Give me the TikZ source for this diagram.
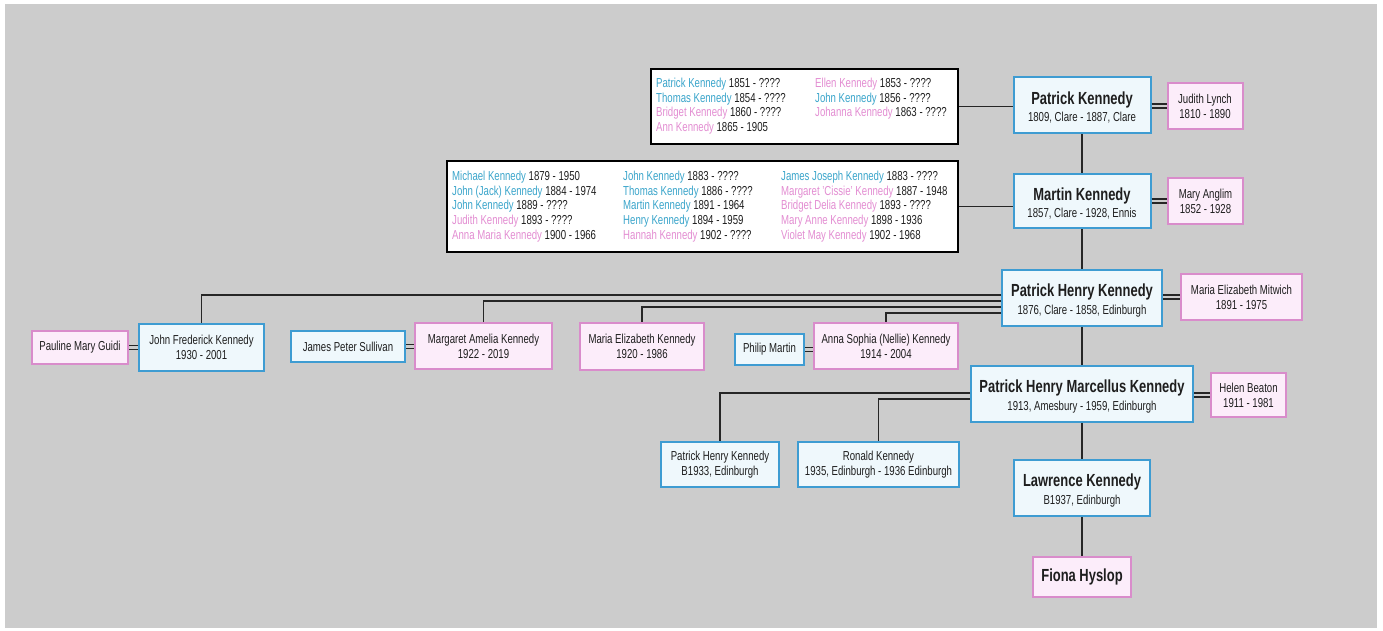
\documentclass[tikz,border=0pt]{standalone}
\usepackage{fontspec}
\setmainfont{Liberation Sans}[FakeStretch=0.74]
\usepackage{array}
\definecolor{bggray}{HTML}{CCCCCC}
\definecolor{bblue}{HTML}{3E9CD2}
\definecolor{bfill}{HTML}{EFF8FC}
\definecolor{ppink}{HTML}{D98CCB}
\definecolor{pfill}{HTML}{FCEDFA}
\definecolor{txt}{HTML}{1E1E1E}
\definecolor{sblue}{HTML}{3AA5CB}
\definecolor{spink}{HTML}{E38DD2}
\newcommand\pname[1]{{\fontsize{17.5}{17.5}\selectfont\bfseries\rule{0pt}{17.5pt}#1}}
\newcommand\bn[1]{\textcolor{sblue}{#1}}
\newcommand\pn[1]{\textcolor{spink}{#1}}
\begin{document}
\begin{tikzpicture}[x=1pt,y=-1pt,
  person/.style={rectangle, inner sep=2pt, align=center, text=txt, font=\fontsize{13}{15}\selectfont},
  male/.style={person, draw=bblue, fill=bfill, line width=2pt},
  female/.style={person, draw=ppink, fill=pfill, line width=2pt},
  mainp/.style={male, font=\fontsize{13}{17.5}\selectfont},
  sib/.style={rectangle, draw=black, fill=white, line width=1.8pt},
  sibtxt/.style={anchor=north west, inner sep=0pt, text=txt, font=\fontsize{13}{14.7}\selectfont},
  conn/.style={draw=black!85, line width=1.8pt},
  marr/.style={draw=black!85, double=bggray, double distance=2.6pt, line width=1.3pt}]
\useasboundingbox (0,0) rectangle (1383,630);
\fill[white] (0,0) rectangle (1383,630);
\fill[bggray] (5,4) rectangle (1377,628);

% sibling boxes
\node[sib, anchor=north west, minimum width=307pt, minimum height=75pt] (sibA) at (650,68) {};
\node[sibtxt] (sibAtxt) at (656,77) {\begin{tabular}{@{}p{159pt}@{}l@{}}
\bn{Patrick Kennedy} 1851 - ???? & \pn{Ellen Kennedy} 1853 - ????\\
\bn{Thomas Kennedy} 1854 - ???? & \bn{John Kennedy} 1856 - ????\\
\pn{Bridget Kennedy} 1860 - ???? & \pn{Johanna Kennedy} 1863 - ????\\
\pn{Ann Kennedy} 1865 - 1905 & \\
\end{tabular}};

\node[sib, anchor=north west, minimum width=511pt, minimum height=91pt] (sibB) at (446,160) {};
\node[sibtxt] (sibBtxt) at (452,170) {\begin{tabular}{@{}p{171pt}@{}p{158pt}@{}l@{}}
\bn{Michael Kennedy} 1879 - 1950 & \bn{John Kennedy} 1883 - ???? & \bn{James Joseph Kennedy} 1883 - ????\\
\bn{John (Jack) Kennedy} 1884 - 1974 & \bn{Thomas Kennedy} 1886 - ???? & \pn{Margaret 'Cissie' Kennedy} 1887 - 1948\\
\bn{John Kennedy} 1889 - ???? & \bn{Martin Kennedy} 1891 - 1964 & \pn{Bridget Delia Kennedy} 1893 - ????\\
\pn{Judith Kennedy} 1893 - ???? & \bn{Henry Kennedy} 1894 - 1959 & \pn{Mary Anne Kennedy} 1898 - 1936\\
\pn{Anna Maria Kennedy} 1900 - 1966 & \pn{Hannah Kennedy} 1902 - ???? & \pn{Violet May Kennedy} 1902 - 1968\\
\end{tabular}};

% main line
\node[mainp, minimum width=137pt, minimum height=56pt] (PK) at (1082,105) {\pname{Patrick Kennedy}\\1809, Clare - 1887, Clare};
\node[female, minimum width=75pt, minimum height=46pt] (JL) at (1205,106) {Judith Lynch\\1810 - 1890};
\node[mainp, minimum width=137pt, minimum height=54pt] (MK) at (1082,201) {\pname{Martin Kennedy}\\1857, Clare - 1928, Ennis};
\node[female, minimum width=75pt, minimum height=46pt] (MA) at (1205.5,201) {Mary Anglim\\1852 - 1928};
\node[mainp, minimum width=160pt, minimum height=56pt] (PHK) at (1082,298) {\pname{Patrick Henry Kennedy}\\1876, Clare - 1858, Edinburgh};
\node[female, minimum width=121pt, minimum height=46pt] (MEM) at (1241.5,297) {Maria Elizabeth Mitwich\\1891 - 1975};
\node[mainp, minimum width=222pt, minimum height=56pt] (PHMK) at (1082,394) {\pname{Patrick Henry Marcellus Kennedy}\\1913, Amesbury - 1959, Edinburgh};
\node[female, minimum width=75pt, minimum height=44pt] (HB) at (1248.5,395) {Helen Beaton\\1911 - 1981};
\node[mainp, minimum width=136pt, minimum height=56pt] (LK) at (1082,488) {\pname{Lawrence Kennedy}\\B1937, Edinburgh};
\node[female, minimum width=98pt, minimum height=40pt, font=\fontsize{17.5}{18}\selectfont\bfseries] (FH) at (1082,577) {Fiona Hyslop};

% grandchildren of PHMK
\node[male, minimum width=118pt, minimum height=45pt] (PHK33) at (720,464.5) {Patrick Henry Kennedy\\B1933, Edinburgh};
\node[male, minimum width=161pt, minimum height=45pt] (RK) at (878.5,464.5) {Ronald Kennedy\\1935, Edinburgh - 1936 Edinburgh};

% children of PHK
\node[female, minimum width=96pt, minimum height=33pt] (PMG) at (80,347.5) {Pauline Mary Guidi};
\node[male, minimum width=125pt, minimum height=47pt] (JFK) at (201.5,347.5) {John Frederick Kennedy\\1930 - 2001};
\node[male, minimum width=114pt, minimum height=31pt] (JPS) at (348,346.5) {James Peter Sullivan};
\node[female, minimum width=137pt, minimum height=46pt] (MAK) at (483.5,346) {Margaret Amelia Kennedy\\1922 - 2019};
\node[female, minimum width=124pt, minimum height=47pt] (MEK) at (642,346.5) {Maria Elizabeth Kennedy\\1920 - 1986};
\node[male, minimum width=69pt, minimum height=31pt] (PM) at (769.5,349.5) {Philip Martin};
\node[female, minimum width=144pt, minimum height=46pt] (AS) at (886,346) {Anna Sophia (Nellie) Kennedy\\1914 - 2004};

% connectors
\draw[conn] (sibA.east) -- (sibA.east -| PK.west);
\draw[conn] (sibB.east) -- (sibB.east -| MK.west);
\draw[conn] (PK.south) -- (MK.north);
\draw[conn] (MK.south) -- (PHK.north);
\draw[conn] (PHK.south) -- (PHMK.north);
\draw[conn] (PHMK.south) -- (LK.north);
\draw[conn] (LK.south) -- (FH.north);
\draw[conn] ([yshift=3pt]PHK.west) -| (JFK.north);
\draw[conn] ([yshift=-3pt]PHK.west) -| (MAK.north);
\draw[conn] ([yshift=-9pt]PHK.west) -| (MEK.north);
\draw[conn] ([yshift=-15pt]PHK.west) -| (AS.north);
\draw[conn] ([yshift=1pt]PHMK.west) -| (PHK33.north);
\draw[conn] ([yshift=-5pt]PHMK.west) -| (RK.north);

% marriages
\draw[marr] (JL.west -| PK.east) -- (JL.west);
\draw[marr] (MA.west -| MK.east) -- (MA.west);
\draw[marr] (MEM.west -| PHK.east) -- (MEM.west);
\draw[marr] (HB.west -| PHMK.east) -- (HB.west);
\draw[marr] (PMG.east) -- (PMG.east -| JFK.west);
\draw[marr] (JPS.east) -- (JPS.east -| MAK.west);
\draw[marr] (PM.east) -- (PM.east -| AS.west);
\end{tikzpicture}
\end{document}
